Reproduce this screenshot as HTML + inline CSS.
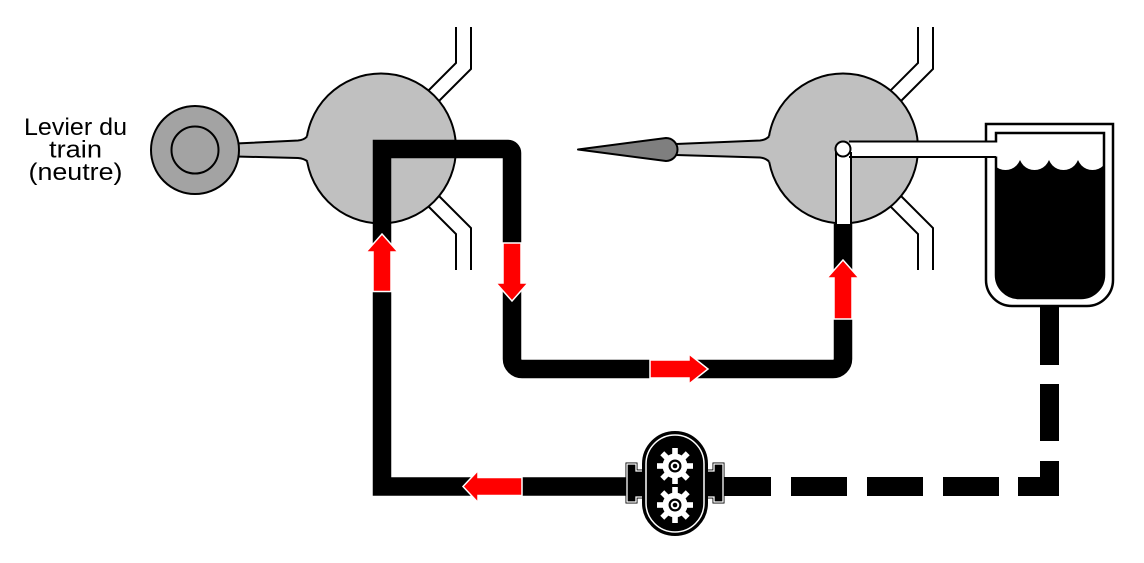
<!DOCTYPE html>
<html><head><meta charset="utf-8"><style>
html,body{margin:0;padding:0;background:#fff;}
svg{display:block;}
</style></head><body>
<svg width="1144" height="563" viewBox="0 0 1144 563" xmlns="http://www.w3.org/2000/svg">
<rect width="1144" height="563" fill="#fff"/>
<defs>
<clipPath id="tankclip"><path d="M996,133 H1104 V275 A23,23 0 0 1 1081,298 H1019 A23,23 0 0 1 996,275 Z"/></clipPath>
<g id="gear">
<g fill="#fff">
<rect x="-2.8" y="-18" width="5.6" height="36"/>
<rect x="-2.8" y="-18" width="5.6" height="36" transform="rotate(45)"/>
<rect x="-2.8" y="-18" width="5.6" height="36" transform="rotate(90)"/>
<rect x="-2.8" y="-18" width="5.6" height="36" transform="rotate(135)"/>
<circle r="12.5"/>
</g>
<circle r="6.5" fill="#000"/>
<circle r="4.3" fill="#fff"/>
<circle r="2.3" fill="#000"/>
</g>
</defs>

<!-- label -->
<g font-family="Liberation Sans, Arial, sans-serif" font-size="24" fill="#000" text-anchor="middle">
<text x="75.5" y="135" textLength="103" lengthAdjust="spacingAndGlyphs">Levier du</text>
<text x="75.5" y="157.5" textLength="53" lengthAdjust="spacingAndGlyphs">train</text>
<text x="75.5" y="180" textLength="94" lengthAdjust="spacingAndGlyphs">(neutre)</text>
</g>

<!-- double lines -->
<g fill="none" stroke="#000" stroke-width="2">
<polyline points="456,27 456,63 418,101"/>
<polyline points="471,27 471,69 428,112"/>
<polyline points="456,270 456,234 418,196"/>
<polyline points="471,270 471,228 428,185"/>
<polyline points="918,27 918,63 880,101"/>
<polyline points="933,27 933,69 890,112"/>
<polyline points="918,270 918,234 880,196"/>
<polyline points="933,270 933,228 890,185"/>
</g>

<!-- circle 1 + lever -->
<circle cx="381" cy="148.5" r="75" fill="#c0c0c0" stroke="#000" stroke-width="2"/>
<path d="M236,143.5 L298,140.5 Q304,140 307,136.5 L313,136.5 L313,162 L307.5,161.5 Q304,158.5 298,158 L236,156.5 Z" fill="#c0c0c0"/>
<path d="M236,143.5 L298,140.5 Q304,140 307,136.5" fill="none" stroke="#000" stroke-width="2"/>
<path d="M236,156.5 L298,158 Q304,158.5 307.5,161.5" fill="none" stroke="#000" stroke-width="2"/>
<circle cx="195" cy="150" r="44" fill="#a3a3a3" stroke="#000" stroke-width="2"/>
<circle cx="195" cy="150" r="23.5" fill="#a3a3a3" stroke="#000" stroke-width="2"/>

<!-- circle 2 + needle -->
<circle cx="843" cy="148.5" r="75" fill="#c0c0c0" stroke="#000" stroke-width="2"/>
<path d="M676,144 L760,140.5 Q765.5,140 769,136.5 L775,136.5 L775,161.5 L769,161.5 Q765.5,158 760,157.5 L676,155 Z" fill="#c0c0c0"/>
<path d="M676,144 L760,140.5 Q765.5,140 769,136.5" fill="none" stroke="#000" stroke-width="2"/>
<path d="M676,155 L760,157.5 Q765.5,158 769,161.5" fill="none" stroke="#000" stroke-width="2"/>
<path d="M578,149.5 L666,138 A11.5,11.5 0 0 1 666,161 Z" fill="#7f7f7f" stroke="#000" stroke-width="2" stroke-linejoin="round"/>

<!-- main black pipe -->
<path d="M645,486.5 H382 V149 H508 A4,4 0 0 1 512,153 V359 A10,10 0 0 0 522,369 H833 A10,10 0 0 0 843,359 V224" fill="none" stroke="#000" stroke-width="18.5" stroke-linejoin="miter"/>

<!-- tank -->
<path d="M986,124 H1113 V280 A26,26 0 0 1 1087,306 H1012 A26,26 0 0 1 986,280 Z" fill="#fff" stroke="#000" stroke-width="2.5"/>
<path d="M996,133 H1104 V275 A23,23 0 0 1 1081,298 H1019 A23,23 0 0 1 996,275 Z" fill="#000"/>
<g clip-path="url(#tankclip)" fill="#fff">
<rect x="990" y="128" width="120" height="27"/>
<circle cx="1005.5" cy="154.5" r="15.5"/>
<circle cx="1034.5" cy="154.5" r="15.5"/>
<circle cx="1063.5" cy="154.5" r="15.5"/>
<circle cx="1092.5" cy="154.5" r="15.5"/>
</g>
<path d="M996,133 H1104 V275 A23,23 0 0 1 1081,298 H1019 A23,23 0 0 1 996,275 Z" fill="none" stroke="#000" stroke-width="2.5"/>

<!-- white pipes in circle 2 -->
<rect x="836" y="149" width="15" height="75" fill="#fff"/>
<rect x="843" y="142.5" width="155" height="14" fill="#fff"/>
<g stroke="#000" stroke-width="2" fill="none">
<line x1="836" y1="152" x2="836" y2="224"/>
<line x1="851" y1="152" x2="851" y2="224"/>
<line x1="849" y1="141.5" x2="996" y2="141.5"/>
<line x1="849" y1="157" x2="996" y2="157"/>
</g>
<circle cx="843" cy="149" r="7.5" fill="#fff" stroke="#000" stroke-width="2"/>

<!-- dashed return line -->
<g fill="#000">
<rect x="1040" y="307" width="19" height="58"/>
<rect x="1040" y="384" width="19" height="57"/>
<rect x="1040" y="461" width="19" height="35"/>
<rect x="1018" y="477" width="41" height="19"/>
<rect x="943" y="477" width="56" height="19"/>
<rect x="867" y="477" width="56" height="19"/>
<rect x="791" y="477" width="56" height="19"/>
<rect x="705" y="477" width="66" height="19"/>
</g>

<!-- pump -->
<path d="M627,464 H636 V471 H648 V497 H636 V502 H627 Z" fill="#000" stroke="#000" stroke-width="3" stroke-linejoin="miter"/>
<path d="M627,464 H636 V471 H648 V497 H636 V502 H627 Z" fill="#000" stroke="#fff" stroke-width="1.3"/>
<path d="M723,464 H714 V471 H702 V497 H714 V502 H723 Z" fill="#000" stroke="#000" stroke-width="3" stroke-linejoin="miter"/>
<path d="M723,464 H714 V471 H702 V497 H714 V502 H723 Z" fill="#000" stroke="#fff" stroke-width="1.3"/>
<rect x="643" y="432" width="64" height="103" rx="32" ry="32" fill="#000" stroke="#000" stroke-width="2"/>
<rect x="646" y="435" width="58" height="97" rx="29" ry="29" fill="#000" stroke="#fff" stroke-width="1.5"/>
<use href="#gear" x="675" y="466"/>
<use href="#gear" x="675" y="505"/>

<!-- red arrows -->
<g fill="#ff0000" stroke="#fff" stroke-width="1.5" stroke-linejoin="miter">
<polygon points="373,291.5 391,291.5 391,252 398,252 382,234 366,252 373,252"/>
<polygon points="503,243 521,243 521,283 528,283 512,301 496,283 503,283"/>
<polygon points="650,360 689,360 689,354 708,369 689,384 689,378 650,378"/>
<polygon points="834,319 852,319 852,278 859,278 843,260 827,278 834,278"/>
<polygon points="522,477.5 478,477.5 478,470.5 463,486.5 478,502.5 478,495.5 522,495.5"/>
</g>
</svg>
</body></html>
